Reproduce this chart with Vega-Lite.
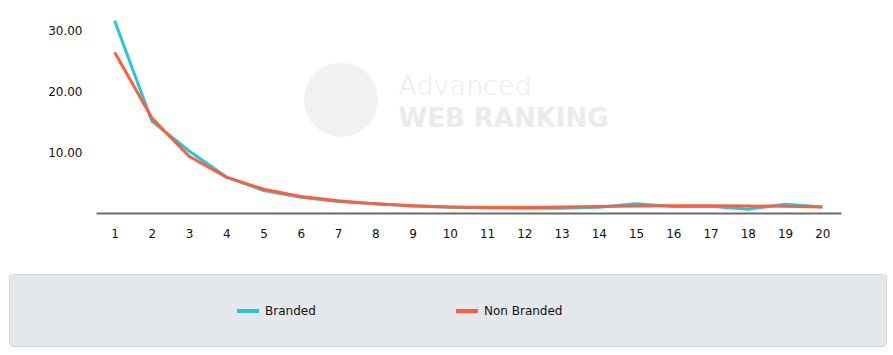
{
  "$schema": "https://vega.github.io/schema/vega-lite/v6.json",
  "padding": {"left": 8, "top": 0, "right": 0, "bottom": 0},
  "autosize": {"type": "pad"},
  "background": "white",
  "config": {"view": {"stroke": null}, "font": "DejaVu Sans"},
  "spacing": 34,
  "datasets": {
    "ctr": [
      {"position": 1, "series": "Branded", "ctr": 31.6},
      {"position": 2, "series": "Branded", "ctr": 15.1},
      {"position": 3, "series": "Branded", "ctr": 10.2},
      {"position": 4, "series": "Branded", "ctr": 5.9},
      {"position": 5, "series": "Branded", "ctr": 3.7},
      {"position": 6, "series": "Branded", "ctr": 2.6},
      {"position": 7, "series": "Branded", "ctr": 1.9},
      {"position": 8, "series": "Branded", "ctr": 1.5},
      {"position": 9, "series": "Branded", "ctr": 1.15},
      {"position": 10, "series": "Branded", "ctr": 0.95},
      {"position": 11, "series": "Branded", "ctr": 0.85},
      {"position": 12, "series": "Branded", "ctr": 0.8},
      {"position": 13, "series": "Branded", "ctr": 0.8},
      {"position": 14, "series": "Branded", "ctr": 0.95},
      {"position": 15, "series": "Branded", "ctr": 1.5},
      {"position": 16, "series": "Branded", "ctr": 1.05},
      {"position": 17, "series": "Branded", "ctr": 1.1},
      {"position": 18, "series": "Branded", "ctr": 0.6},
      {"position": 19, "series": "Branded", "ctr": 1.45},
      {"position": 20, "series": "Branded", "ctr": 1.0},
      {"position": 1, "series": "Non Branded", "ctr": 26.4},
      {"position": 2, "series": "Non Branded", "ctr": 15.6},
      {"position": 3, "series": "Non Branded", "ctr": 9.3},
      {"position": 4, "series": "Non Branded", "ctr": 5.9},
      {"position": 5, "series": "Non Branded", "ctr": 3.9},
      {"position": 6, "series": "Non Branded", "ctr": 2.7},
      {"position": 7, "series": "Non Branded", "ctr": 2.0},
      {"position": 8, "series": "Non Branded", "ctr": 1.5},
      {"position": 9, "series": "Non Branded", "ctr": 1.2},
      {"position": 10, "series": "Non Branded", "ctr": 1.0},
      {"position": 11, "series": "Non Branded", "ctr": 0.9},
      {"position": 12, "series": "Non Branded", "ctr": 0.9},
      {"position": 13, "series": "Non Branded", "ctr": 1.0},
      {"position": 14, "series": "Non Branded", "ctr": 1.05},
      {"position": 15, "series": "Non Branded", "ctr": 1.15},
      {"position": 16, "series": "Non Branded", "ctr": 1.2},
      {"position": 17, "series": "Non Branded", "ctr": 1.2},
      {"position": 18, "series": "Non Branded", "ctr": 1.15},
      {"position": 19, "series": "Non Branded", "ctr": 1.1},
      {"position": 20, "series": "Non Branded", "ctr": 1.0}
    ],
    "seriesNames": [{"series": "Branded"}, {"series": "Non Branded"}]
  },
  "vconcat": [
    {
      "width": 877,
      "height": 213,
      "layer": [
        {
          "data": {"values": [{"t": ""}]},
          "mark": {"type": "point", "filled": true, "color": "#f1f1f1", "opacity": 1, "size": 5500},
          "encoding": {
            "x": {"datum": 7.08, "type": "quantitative"},
            "y": {"datum": 18.6, "type": "quantitative"}
          }
        },
        {
          "data": {"values": [{"t": "Advanced"}]},
          "mark": {"type": "text", "align": "left", "baseline": "alphabetic", "font": "DejaVu Sans", "fontSize": 27, "fontWeight": 300, "color": "#ebebeb"},
          "encoding": {
            "x": {"datum": 8.62, "type": "quantitative"},
            "y": {"datum": 19.4, "type": "quantitative"},
            "text": {"field": "t"}
          }
        },
        {
          "data": {"values": [{"t": "WEB RANKING"}]},
          "mark": {"type": "text", "align": "left", "baseline": "alphabetic", "font": "DejaVu Sans", "fontSize": 26, "fontWeight": "bold", "color": "#ebebeb"},
          "encoding": {
            "x": {"datum": 8.62, "type": "quantitative"},
            "y": {"datum": 14.1, "type": "quantitative"},
            "text": {"field": "t"}
          }
        },
        {
          "data": {"name": "ctr"},
          "mark": {"type": "line", "strokeWidth": 3, "interpolate": "linear"},
          "encoding": {
            "x": {
              "field": "position",
              "type": "quantitative",
              "scale": {"domain": [0.5, 20.5], "range": [87, 832], "nice": false, "zero": false},
              "axis": {
                "title": null,
                "values": [1,2,3,4,5,6,7,8,9,10,11,12,13,14,15,16,17,18,19,20],
                "format": "d",
                "grid": false,
                "ticks": false,
                "labelOverlap": false,
                "labelPadding": 15,
                "labelFontSize": 12,
                "labelColor": "#111111",
                "labelFont": "DejaVu Sans",
                "domainColor": "#6b6b6b",
                "domainWidth": 2
              }
            },
            "y": {
              "field": "ctr",
              "type": "quantitative",
              "scale": {"domain": [0, 35], "nice": false},
              "axis": {
                "title": null,
                "values": [10, 20, 30],
                "format": ".2f",
                "grid": false,
                "ticks": false,
                "domain": false,
                "offset": -88,
                "labelPadding": 15,
                "labelFontSize": 12,
                "labelColor": "#111111",
                "labelFont": "DejaVu Sans"
              }
            },
            "color": {
              "field": "series",
              "type": "nominal",
              "scale": {"domain": ["Branded", "Non Branded"], "range": ["#26c6da", "#fe5e3c"]},
              "legend": {
                "orient": "none",
                "legendX": 226,
                "legendY": 298,
                "direction": "horizontal",
                "title": null,
                "symbolType": "stroke",
                "symbolStrokeWidth": 4,
                "symbolSize": 484,
                "labelFontSize": 12,
                "labelFont": "DejaVu Sans",
                "labelColor": "#111111",
                "labelOffset": 4,
                "columnPadding": 132,
                "padding": 0
              }
            }
          }
        }
      ]
    },
    {
      "width": 877,
      "height": 72,
      "view": {"fill": "#e5e8eb", "stroke": "#d2d5d8", "strokeWidth": 1, "cornerRadius": 3},
      "data": {"name": "seriesNames"},
      "mark": {"type": "point", "opacity": 0},
      "encoding": {
        "color": {"field": "series", "type": "nominal"}
      }
    }
  ]
}
